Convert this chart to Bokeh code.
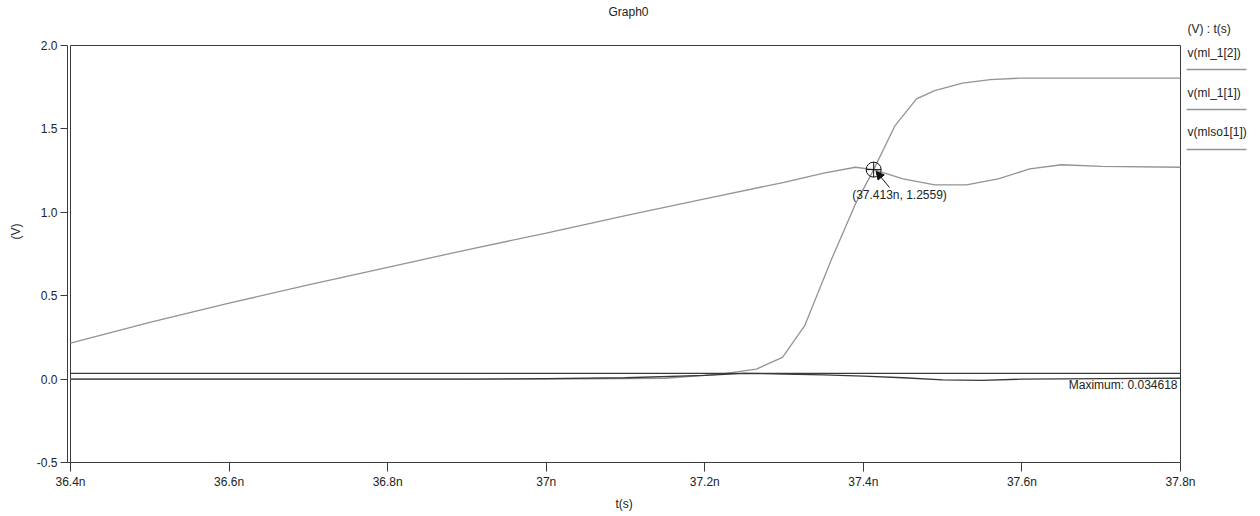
from bokeh.plotting import figure
from bokeh.models import Range1d, FixedTicker, Label, Arrow, NormalHead, CustomJSTickFormatter, Title
from bokeh.embed import file_html
from bokeh.resources import INLINE

# ---- data ----
t_ml12 = [36.4, 36.5, 36.6, 36.7, 36.8, 36.9, 37.0, 37.1, 37.2, 37.3, 37.35, 37.39,
          37.413, 37.45, 37.49, 37.53, 37.57, 37.61, 37.65, 37.7, 37.8]
v_ml12 = [0.215, 0.34, 0.455, 0.565, 0.67, 0.775, 0.875, 0.98, 1.08, 1.18, 1.235, 1.27,
          1.256, 1.2, 1.165, 1.165, 1.2, 1.26, 1.285, 1.275, 1.27]

t_ml11 = [36.4, 37.0, 37.15, 37.22, 37.265, 37.298, 37.326, 37.36, 37.39, 37.413,
          37.44, 37.467, 37.49, 37.525, 37.56, 37.6, 37.7, 37.8]
v_ml11 = [0.0, 0.0, 0.005, 0.03, 0.06, 0.13, 0.32, 0.72, 1.05, 1.256,
          1.52, 1.68, 1.73, 1.775, 1.795, 1.805, 1.805, 1.805]

t_mlso = [36.4, 36.9, 37.0, 37.1, 37.2, 37.25, 37.3, 37.35, 37.4, 37.45, 37.5,
          37.55, 37.6, 37.7, 37.8]
v_mlso = [0.0, 0.0, 0.003, 0.008, 0.022, 0.0346, 0.03, 0.025, 0.018, 0.008, -0.005,
          -0.008, 0.0, 0.003, 0.005]

series_names = ["v(ml_1[2])", "v(ml_1[1])", "v(mlso1[1])"]
legend_header = "(V) : t(s)"
title_text = "Graph0"
x_label = "t(s)"
y_label = "(V)"
max_value = 0.034618
marker_t = 37.413
marker_v = 1.2559

x_ticks = [36.4, 36.6, 36.8, 37.0, 37.2, 37.4, 37.6, 37.8]
y_ticks = [-0.5, 0.0, 0.5, 1.0, 1.5, 2.0]
X_MIN, X_MAX = 36.4, 37.8
Y_MIN, Y_MAX = -0.5, 2.0

# ---- layout (pixels) ----
W, H = 1250, 513
AX_L = 67                 # y-axis line
PA_L, PA_R = 70, 1180     # plotting box left/right
PA_T, PA_B = 45, 462      # plotting box top/bottom
ppx = (PA_R - PA_L) / (X_MAX - X_MIN)
ppy = (PA_B - PA_T) / (Y_MAX - Y_MIN)

def px_x(px):
    return X_MIN + (px - PA_L) / ppx

def px_y(py):
    return Y_MIN + (PA_B - py) / ppy

FONT = "Liberation Sans"
FS = "12px"
GRAY = "#939393"
DARK = "#3a3a3a"
TXT = "#222222"

p = figure(width=W, height=H, output_backend="svg", toolbar_location=None,
           x_range=Range1d(px_x(AX_L), px_x(W)), y_range=Range1d(Y_MIN, px_y(0)),
           min_border_left=AX_L, min_border_right=0, min_border_top=0,
           min_border_bottom=H - PA_B)
p.background_fill_color = "white"
p.border_fill_color = "white"
p.outline_line_color = None
p.xgrid.visible = False
p.ygrid.visible = False

# axes
p.xaxis.ticker = FixedTicker(ticks=x_ticks)
p.xaxis.bounds = (px_x(AX_L), X_MAX)
p.xaxis.formatter = CustomJSTickFormatter(code="""
    let s = tick.toFixed(1);
    if (s.endsWith('.0')) s = s.slice(0, -2);
    return s + 'n';
""")
p.yaxis.ticker = FixedTicker(ticks=y_ticks)
p.yaxis.bounds = (Y_MIN, Y_MAX)
p.yaxis.formatter = CustomJSTickFormatter(code="return tick.toFixed(1);")
for ax in (p.xaxis, p.yaxis):
    ax.axis_line_color = DARK
    ax.major_tick_line_color = DARK
    ax.minor_tick_line_color = None
    ax.major_tick_in = 0
    ax.major_label_text_font = FONT
    ax.major_label_text_font_size = FS
    ax.major_label_text_color = TXT
    ax.axis_label_text_font = FONT
    ax.axis_label_text_font_size = FS
    ax.axis_label_text_font_style = "normal"
    ax.axis_label_text_color = TXT
p.xaxis.major_tick_out = 9
p.xaxis.major_label_standoff = 3
p.yaxis.major_tick_out = 7
p.yaxis.major_label_standoff = 3
p.yaxis.axis_label = y_label
p.yaxis.axis_label_standoff = 11

# x-axis label, centred under the plotting box
p.add_layout(Title(text=x_label, align="left", offset=(PA_L + PA_R) / 2 - 10 - AX_L,
                   text_font=FONT, text_font_size=FS, text_font_style="normal",
                   text_color=TXT, standoff=6), "below")

# plot box (left, top, right edges)
p.line([X_MIN, X_MIN, X_MAX, X_MAX], [Y_MIN, Y_MAX, Y_MAX, Y_MIN], line_color=DARK, line_width=1)

# curves
p.line(t_ml12, v_ml12, line_color=GRAY, line_width=1.3)
p.line(t_ml11, v_ml11, line_color=GRAY, line_width=1.3)
p.line(t_mlso, v_mlso, line_color=DARK, line_width=1.3)

# maximum marker line
p.line([X_MIN, X_MAX], [max_value, max_value], line_color=DARK, line_width=1.2)
p.add_layout(Label(x=px_x(PA_R - 3), y=px_y(377), text="Maximum: " + str(max_value),
                   text_align="right", text_baseline="top", text_font=FONT,
                   text_font_size=FS, text_color=TXT))

# cursor marker
p.scatter([marker_t], [marker_v], marker="circle_cross", size=15, fill_color=None,
          line_color="#111111", line_width=1)
p.add_layout(Arrow(x_start=px_x(889), y_start=px_y(187), x_end=marker_t + 0.003,
                   y_end=marker_v - 0.01, line_color="#111111", line_width=1,
                   end=NormalHead(size=8, fill_color="#111111", line_color="#111111")))
p.add_layout(Label(x=px_x(899), y=px_y(194), text="(%sn, %s)" % (marker_t, marker_v),
                   text_align="center", text_baseline="middle", text_font=FONT,
                   text_font_size=FS, text_color=TXT))

# title
p.add_layout(Label(x=px_x(628), y=px_y(11), text=title_text, text_align="center",
                   text_baseline="middle", text_font=FONT, text_font_size=FS,
                   text_color=TXT))

# legend on right
p.add_layout(Label(x=px_x(1187), y=px_y(28), text=legend_header, text_align="left",
                   text_baseline="middle", text_font=FONT, text_font_size=FS,
                   text_color=TXT))
legend_text_py = [52, 92, 131]
legend_line_py = [69, 109, 149]
for name, ty in zip(series_names, legend_text_py):
    p.add_layout(Label(x=px_x(1187), y=px_y(ty), text=name, text_align="left",
                       text_baseline="middle", text_font=FONT, text_font_size=FS,
                       text_color=TXT))
p.segment(x0=[px_x(1186)] * 3, y0=[px_y(v) for v in legend_line_py],
          x1=[px_x(1246)] * 3, y1=[px_y(v) for v in legend_line_py],
          line_color=GRAY, line_width=1.5)

open("out.html", "w").write(file_html(p, INLINE))
